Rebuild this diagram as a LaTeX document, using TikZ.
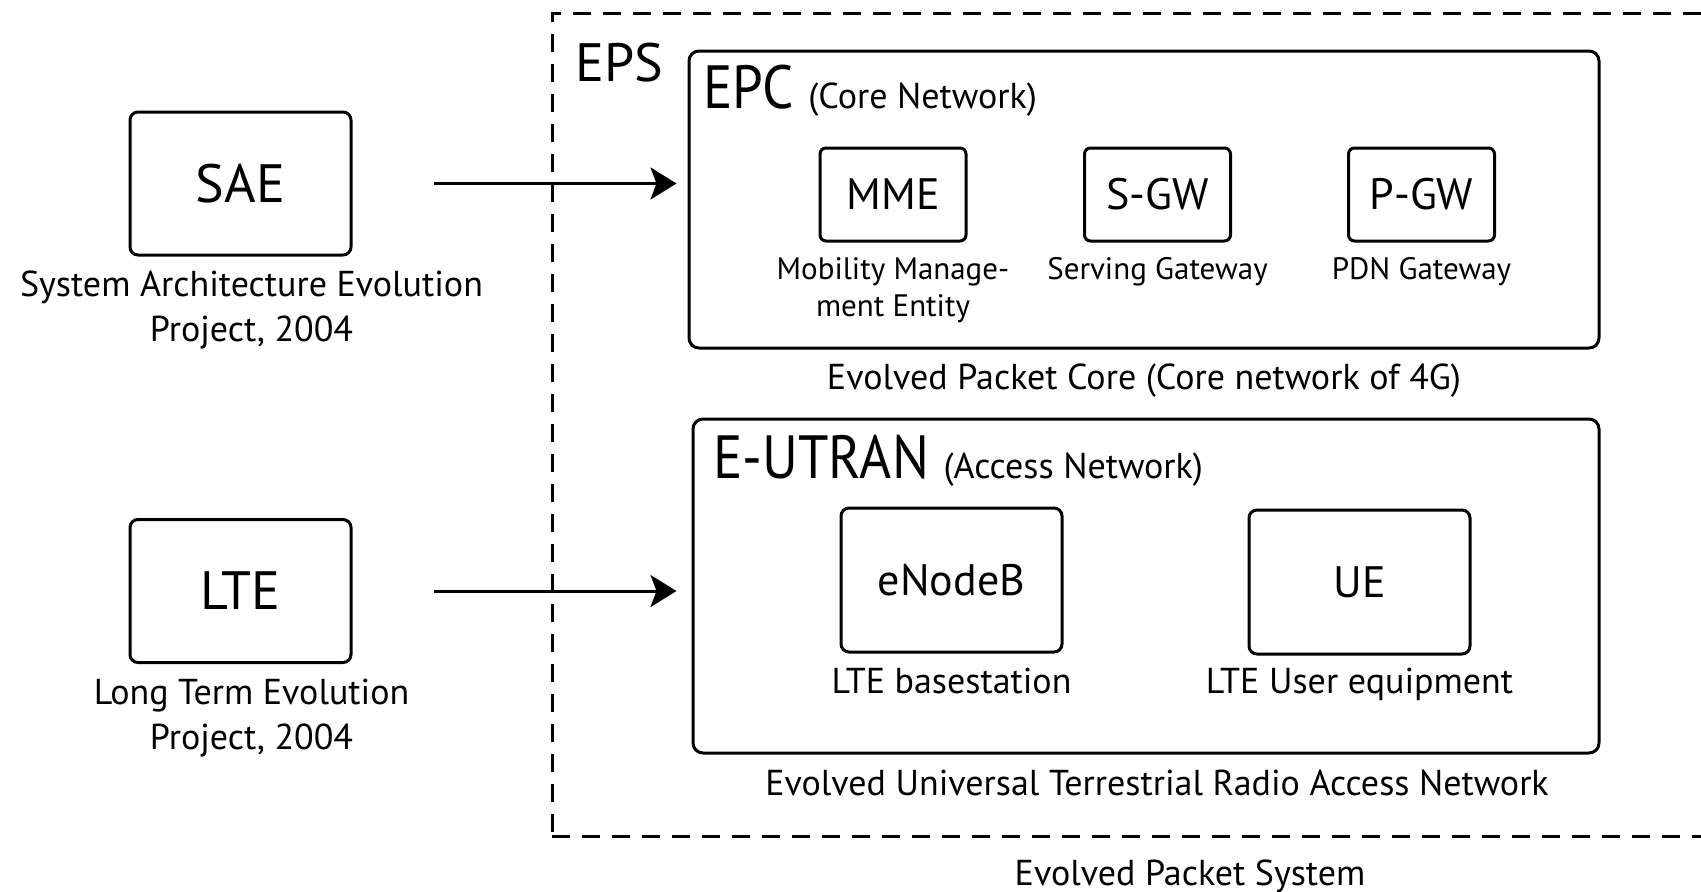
\documentclass[tikz,border=0pt]{standalone}
\usepackage{fontspec}
\setmainfont{PT Sans}
\newfontfamily\narrowfont[FakeStretch=0.9]{PT Sans}
\usepackage{tikz}
\usetikzlibrary{arrows.meta}
\usetikzlibrary{positioning,calc}

\newcommand{\titlesize}{\narrowfont\fontsize{61}{61}\selectfont}
\newcommand{\subsize}{\rmfamily\fontsize{36}{36}\selectfont}
\newcommand{\outersize}{\fontsize{54}{54}\selectfont}
\newcommand{\innersize}{\fontsize{44}{44}\selectfont}
\newcommand{\textsize}{\fontsize{36}{45}\selectfont}
\newcommand{\smallsize}{\fontsize{31}{37}\selectfont}

\begin{document}
\begin{tikzpicture}[x=1pt, y=-1pt,
	box/.style={draw, line width=3pt, rounded corners=8pt},
	outerbox/.style={box, minimum width=221pt, minimum height=143pt, font=\outersize},
	unitbox/.style={box, rounded corners=6pt, minimum width=146pt, minimum height=93pt, font=\innersize},
	radiobox/.style={box, minimum width=221pt, minimum height=144pt, font=\innersize},
	netbox/.style={box, rounded corners=10pt},
	frame/.style={draw, line width=3pt, dash pattern=on 18pt off 12pt},
	caption/.style={inner sep=0pt, align=center, font=\textsize},
	smallcap/.style={inner sep=0pt, align=center, font=\smallsize},
	arr/.style={line width=3pt, -{Stealth[length=26pt, width=32pt, inset=6pt]}}
	]
	\useasboundingbox (0,0) rectangle (1701,892);

	% EPS frame (open to the right)
	\node[frame, minimum width=1168pt, minimum height=823pt] (eps) at (1136,424.5) {};
	\node[anchor=base west, inner sep=0pt, font=\outersize] (epstitle) at (575,81) {EPS};
	\node[caption, below=22pt of eps, xshift=54pt] (epstext) {Evolved Packet System};

	% left side
	\node[outerbox] (sae) at (240.5,183.5) {SAE};
	\node[caption, below=14pt of sae, xshift=11pt] (saetext) {System Architecture Evolution\\Project, 2004};
	\node[outerbox] (lte) at (240.5,591) {LTE};
	\node[caption, below=15pt of lte, xshift=11pt] (ltetext) {Long Term Evolution\\Project, 2004};

	% core network
	\node[netbox, minimum width=910pt, minimum height=297pt] (epc) at (1144,199.5) {};
	\node[anchor=base west, inner sep=0pt] (epctitle) at (703,108) {\titlesize EPC \subsize(Core Network)};
	\node[caption, below=14pt of epc] (epctext) {Evolved Packet Core (Core network of 4G)};

	\node[unitbox] (mme) at (893,194.5) {MME};
	\node[unitbox] (sgw) at (1157.5,194.5) {S-GW};
	\node[unitbox] (pgw) at (1421.5,194.5) {P-GW};
	\node[smallcap, below=15pt of mme] (mmetext) {Mobility Manage-\\ment Entity};
	\node[smallcap, below=15pt of sgw] (sgwtext) {Serving Gateway};
	\node[smallcap, below=15pt of pgw] (pgwtext) {PDN Gateway};

	% access network
	\node[netbox, minimum width=906pt, minimum height=334pt] (eutran) at (1146,586) {};
	\node[anchor=base west, inner sep=0pt] (eutrantitle) at (713,478) {\titlesize E-UTRAN \subsize(Access Network)};
	\node[caption, below=15pt of eutran, xshift=11pt] (eutrantext) {Evolved Universal Terrestrial Radio Access Network};

	\node[radiobox] (enb) at (951.5,580) {eNodeB};
	\node[radiobox] (ue) at (1359.5,582) {UE};
	\node[caption, below=14pt of enb] (enbtext) {LTE basestation};
	\node[caption, below=12pt of ue] (uetext) {LTE User equipment};

	% projects lead to networks
	\draw[arr, shorten <=81pt, shorten >=11pt] (sae.east) -- (sae.east -| epc.west);
	\draw[arr, shorten <=81pt, shorten >=15pt] (lte.east) -- (lte.east -| eutran.west);
\end{tikzpicture}
\end{document}
